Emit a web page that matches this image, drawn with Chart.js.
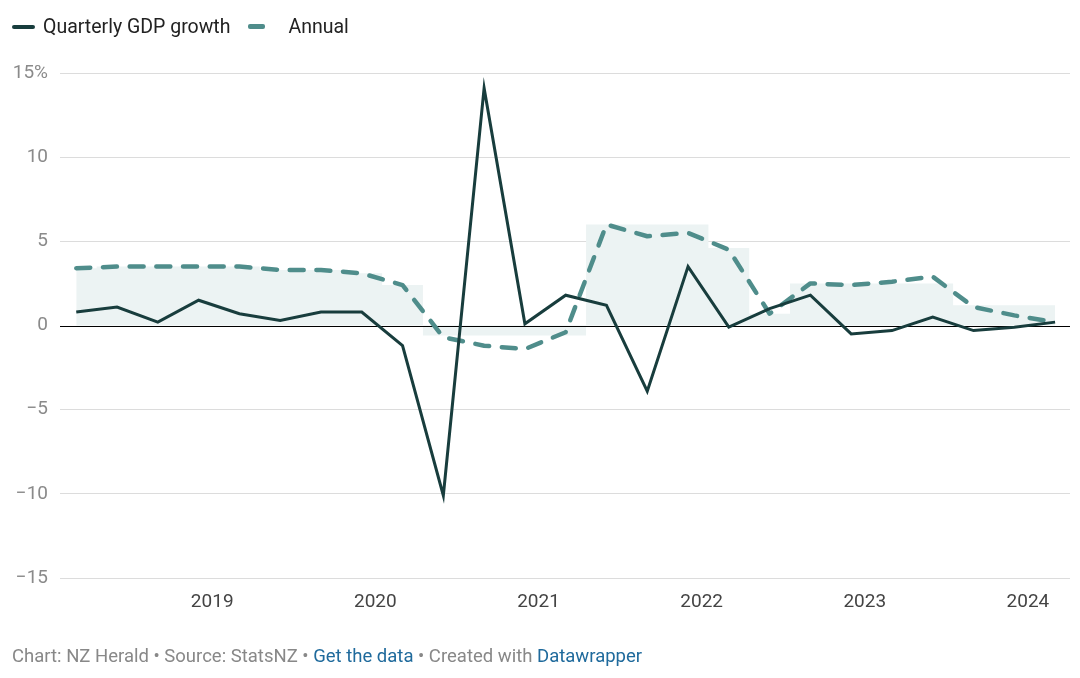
<!DOCTYPE html>
<html>
<head>
<meta charset="utf-8">
<script src="https://cdn.jsdelivr.net/npm/chart.js@4"></script>
<style>
  body { margin: 0; background: #fff; font-family: Roboto, sans-serif; }
  #wrap { position: absolute; left: 0; top: 0; width: 1080px; height: 678px; }
  .legend { position: absolute; left: 12px; top: 15px; font-size: 19.5px; color: #222; display: flex; align-items: center; }
  .sw { display: inline-block; height: 4px; border-radius: 2px; margin-right: 8px; }
  .footer { position: absolute; left: 12px; top: 645px; font-size: 18.5px; color: #888; }
  .footer a { color: #1f6a9c; text-decoration: none; }
</style>
</head>
<body>
<div id="wrap"><canvas id="gdp" width="1080" height="678"></canvas></div>
<div class="legend">
  <span class="sw" style="width:23px;background:#183d3d"></span><span>Quarterly GDP growth</span>
  <span class="sw" style="width:17px;height:5px;background:#4f8d8b;margin-left:18px;margin-right:23px"></span><span>Annual</span>
</div>
<div class="footer">Chart: NZ Herald • Source: StatsNZ • <a>Get the data</a> • Created with <a>Datawrapper</a></div>
<script>
const quarters = ['2018-03', '2018-06', '2018-09', '2018-12', '2019-03', '2019-06', '2019-09', '2019-12',
  '2020-03', '2020-06', '2020-09', '2020-12', '2021-03', '2021-06', '2021-09', '2021-12',
  '2022-03', '2022-06', '2022-09', '2022-12', '2023-03', '2023-06', '2023-09', '2023-12', '2024-03'];
const quarterly = [0.8, 1.1, 0.2, 1.5, 0.7, 0.3, 0.8, 0.8,
  -1.2, -10.1, 14.1, 0.1, 1.8, 1.2, -3.9, 3.5,
  -0.1, 1.0, 1.8, -0.5, -0.3, 0.5, -0.3, -0.1, 0.2];
const annual = [3.4, 3.5, 3.5, 3.5, 3.5, 3.3, 3.3, 3.1,
  2.4, -0.7, -1.2, -1.4, -0.4, 6.0, 5.3, 5.5,
  4.5, 0.7, 2.5, 2.4, 2.6, 2.9, 1.1, 0.6, 0.2];
const annualShade = [3.4, 3.5, 3.5, 3.5, 3.5, 3.3, 3.3, 3.1,
  2.4, -0.6, -0.6, -0.6, -0.6, 6.0, 6.0, 6.0,
  4.6, 0.7, 2.5, 2.5, 2.5, 2.5, 1.2, 1.2, 1.2];
const yearTicks = [2019, 2020, 2021, 2022, 2023, 2024];
const yTicks = [-15, -10, -5, 0, 5, 10, 15];

// quarter -> decimal year (first day of the month)
function toX(q) {
  const [y, m] = q.split('-').map(Number);
  return y + (m - 1) / 12;
}
const pts = arr => quarters.map((q, i) => ({ x: toX(q), y: arr[i] }));

// draw the zero line above the shaded area
const zeroLine = {
  id: 'zeroLine',
  afterDatasetDraw(chart, args) {
    if (args.index !== 2) return;
    const { ctx, chartArea, scales } = chart;
    const y = Math.round(scales.y.getPixelForValue(0)) + 0.5;
    ctx.save();
    ctx.strokeStyle = '#000';
    ctx.lineWidth = 1;
    ctx.beginPath();
    ctx.moveTo(chartArea.left, y);
    ctx.lineTo(chartArea.right, y);
    ctx.stroke();
    ctx.restore();
  }
};

new Chart(document.getElementById('gdp').getContext('2d'), {
  type: 'line',
  data: {
    datasets: [{
      label: 'Quarterly GDP growth',
      data: pts(quarterly),
      borderColor: '#183d3d',
      borderWidth: 3,
      pointRadius: 0,
      tension: 0,
      order: 1
    }, {
      label: 'Annual',
      data: pts(annual),
      borderColor: '#4f8d8b',
      borderWidth: 4.5,
      borderDash: [14, 12.7],
      borderCapStyle: 'round',
      borderJoinStyle: 'round',
      tension: 0,
      pointRadius: 0,
      order: 2
    }, {
      label: 'shade',
      data: pts(annualShade),
      borderWidth: 0,
      borderColor: 'rgba(0,0,0,0)',
      backgroundColor: '#ecf3f3',
      stepped: 'middle',
      fill: 'origin',
      pointRadius: 0,
      order: 3
    }]
  },
  options: {
    responsive: false,
    animation: false,
    layout: { padding: { top: 73, right: 10, left: 0, bottom: 0 } },
    plugins: { legend: { display: false }, tooltip: { enabled: false } },
    scales: {
      x: {
        type: 'linear',
        min: 2018.067,
        max: 2024.258,
        afterBuildTicks: s => { s.ticks = yearTicks.map(v => ({ value: v })); },
        afterFit: s => { s.height = 100; },
        grid: { display: false, drawTicks: false },
        border: { display: false },
        ticks: {
          padding: 13,
          maxRotation: 0,
          color: '#444',
          font: { family: 'Roboto', size: 19 },
          callback: v => String(v)
        }
      },
      y: {
        min: -15,
        max: 15,
        afterBuildTicks: s => { s.ticks = yTicks.map(v => ({ value: v })); },
        afterFit: s => { s.width = 60; },
        grid: {
          drawTicks: false,
          color: c => c.tick && c.tick.value === 0 ? 'rgba(0,0,0,0)' : '#dcdcdc',
          lineWidth: 1
        },
        border: { display: false },
        ticks: {
          padding: 12,
          color: '#8a8a8a',
          font: { family: 'Roboto', size: 19 },
          callback: v => v === 15 ? '15%' : (v < 0 ? '\u2212' + Math.abs(v) : String(v))
        }
      }
    }
  },
  plugins: [zeroLine]
});
</script>
</body>
</html>
